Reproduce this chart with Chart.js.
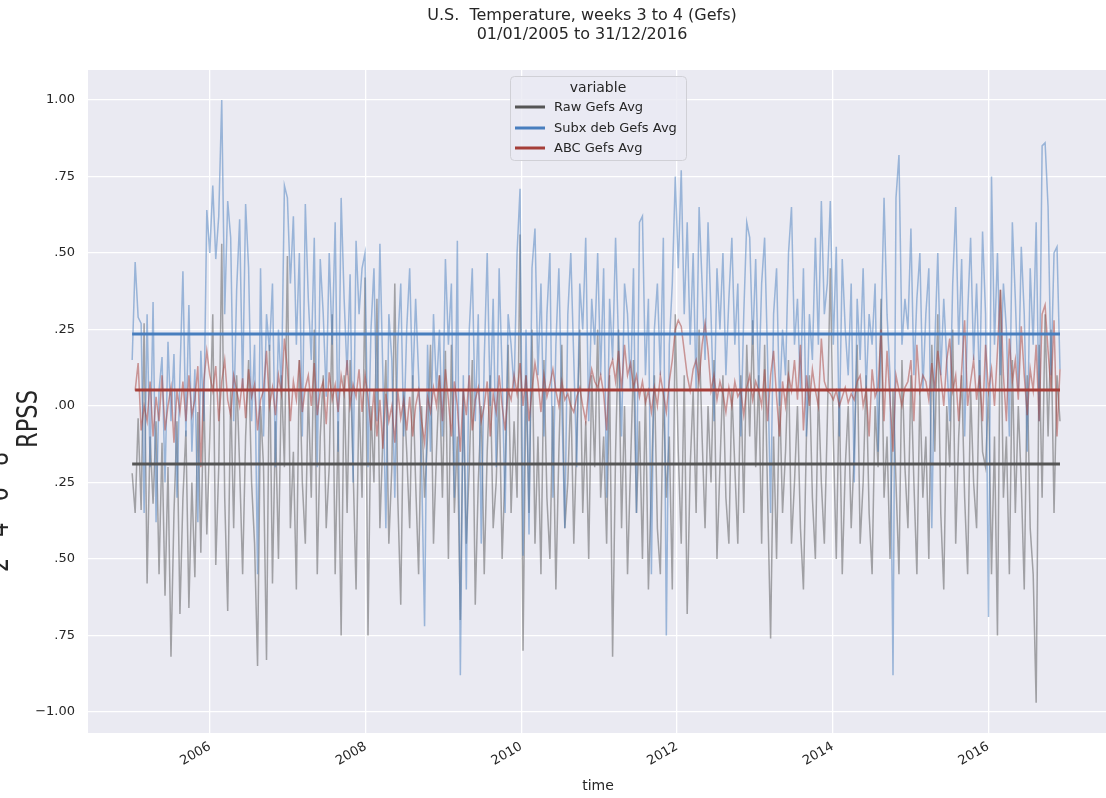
<!DOCTYPE html>
<html><head><meta charset="utf-8">
<script src="https://cdn.jsdelivr.net/npm/chart.js@4.4.0/dist/chart.umd.min.js"></script>
<style>html,body{margin:0;padding:0;background:#fff;}#wrap{width:1106px;height:798px;position:relative;}</style>
</head><body><div id="wrap"><canvas id="c" width="1106" height="798"></canvas></div>
<script>
// ---- data (biweekly samples) ----
const startDate = '2005-01-01';
const stepDays = 14;

const rawGefs = [
 -0.22,-0.35,-0.04,-0.34,0.27,-0.58,-0.10,-0.32,-0.05,-0.55,-0.12,-0.62,-0.20,-0.82,-0.35,-0.05,-0.68,-0.30,-0.08,-0.66,-0.25,-0.56,-0.02,-0.48,0.05,-0.42,
 -0.10,0.30,-0.52,-0.20,0.53,-0.30,-0.67,0.05,-0.40,0.10,-0.20,-0.55,-0.10,0.15,-0.25,-0.45,-0.85,0.00,-0.20,-0.83,0.20,-0.58,-0.05,-0.50,0.10,-0.20,
 0.49,-0.40,-0.15,-0.60,0.15,-0.25,-0.45,0.05,-0.30,0.25,-0.55,-0.10,0.10,-0.40,-0.20,0.30,-0.55,-0.05,-0.75,0.10,-0.35,0.15,-0.20,-0.60,0.05,-0.30,
 0.42,-0.75,0.00,-0.25,0.35,-0.40,-0.10,0.15,-0.45,-0.20,0.40,-0.30,-0.65,0.05,-0.15,-0.40,0.10,-0.25,-0.55,0.00,-0.30,-0.10,0.20,-0.45,-0.15,0.10,
 -0.30,0.18,-0.50,0.20,-0.35,-0.10,-0.70,0.05,-0.45,-0.20,0.15,-0.65,-0.25,0.00,-0.55,-0.15,0.10,-0.40,-0.25,0.05,-0.50,-0.20,0.20,-0.35,-0.05,-0.30,
 0.56,-0.80,0.10,-0.35,0.25,-0.45,-0.10,-0.55,0.15,-0.30,-0.50,0.00,-0.60,-0.15,0.20,-0.40,-0.25,0.05,-0.45,-0.10,0.25,-0.35,-0.05,-0.50,0.10,-0.20,
 0.25,-0.30,-0.10,-0.45,0.10,-0.82,-0.15,0.25,-0.40,0.00,-0.55,-0.20,0.15,-0.35,-0.05,-0.50,0.05,-0.60,-0.25,0.10,-0.40,-0.55,0.05,-0.30,-0.10,-0.60,
 0.30,-0.15,-0.45,0.10,-0.68,-0.20,0.05,-0.35,0.25,-0.10,-0.40,0.00,-0.25,0.15,-0.50,-0.20,0.10,-0.30,-0.45,0.05,-0.20,-0.45,0.10,-0.35,0.20,-0.10,
 0.28,-0.20,0.10,-0.45,0.20,-0.30,-0.76,-0.10,-0.50,0.05,-0.35,-0.15,0.15,-0.45,-0.25,0.00,-0.40,-0.60,-0.10,0.10,-0.30,-0.50,0.05,-0.25,-0.45,-0.05,
 0.45,-0.10,-0.50,0.05,-0.55,-0.20,0.00,-0.40,-0.15,0.20,-0.45,-0.25,0.10,-0.35,-0.55,0.00,-0.20,0.35,-0.30,-0.10,-0.50,0.05,-0.25,-0.55,0.15,-0.20,
 -0.40,0.10,-0.25,-0.55,0.05,-0.30,-0.10,-0.50,0.20,-0.15,0.30,-0.35,-0.60,0.00,-0.20,0.25,-0.45,-0.10,0.10,-0.30,-0.55,0.05,-0.25,-0.40,0.15,-0.15,
 -0.20,0.05,-0.55,-0.10,-0.75,0.38,-0.30,-0.10,-0.55,0.15,-0.35,0.00,-0.25,-0.60,0.10,-0.40,-0.55,-0.97,0.20,-0.30,0.30,-0.10,0.25,-0.35,0.10,-0.05
];

const subxGefs = [
 0.15,0.47,0.29,0.27,-0.35,0.30,-0.20,0.34,-0.38,0.05,0.16,-0.25,0.21,-0.05,0.17,-0.30,0.10,0.44,-0.10,0.33,-0.15,0.12,-0.38,0.18,-0.05,0.64,
 0.50,0.72,0.48,0.62,1.00,0.30,0.67,0.55,-0.05,0.38,0.61,0.05,0.66,0.45,-0.05,0.20,-0.55,0.45,-0.10,0.30,0.18,0.40,-0.20,0.25,0.05,0.72,
 0.68,0.40,0.62,0.20,0.50,-0.10,0.66,0.35,0.15,0.55,-0.20,0.48,0.30,0.03,0.50,0.20,0.60,-0.15,0.68,0.35,0.10,0.43,-0.25,0.54,0.30,0.45,
 0.50,-0.20,0.25,0.45,-0.05,0.53,0.10,-0.40,0.30,0.15,-0.30,0.20,0.40,-0.10,0.25,0.45,0.05,0.35,0.10,-0.20,-0.72,0.20,-0.15,0.30,0.05,0.25,
 -0.10,0.48,0.20,0.40,-0.30,0.54,-0.88,0.10,-0.60,0.25,0.45,-0.05,0.30,-0.45,0.15,0.50,0.00,0.35,-0.20,0.45,0.10,-0.35,0.30,0.20,0.05,0.50,
 0.71,-0.49,0.25,-0.42,0.45,0.58,0.10,0.40,-0.10,0.30,0.50,-0.30,0.20,0.45,0.00,-0.40,0.30,0.50,0.15,-0.20,0.40,0.25,0.55,-0.05,0.35,0.20,
 0.50,0.10,0.45,-0.30,0.35,0.15,0.55,0.20,-0.10,0.40,0.30,0.05,0.45,-0.35,0.60,0.62,0.10,0.35,-0.55,0.25,0.40,0.10,0.55,-0.75,0.20,0.40,
 0.75,0.45,0.77,0.30,0.60,0.20,0.50,0.05,0.65,0.40,0.15,0.60,0.30,-0.05,0.45,0.25,0.50,0.10,0.35,0.55,0.20,0.40,-0.10,0.30,0.60,0.55,
 0.20,0.48,0.05,0.40,0.55,0.15,-0.35,0.30,0.45,0.00,0.25,0.10,0.50,0.65,0.20,0.35,0.05,0.45,-0.10,0.30,0.15,0.55,0.20,0.67,0.30,0.40,
 0.67,0.20,0.52,-0.10,0.48,0.25,0.10,0.40,-0.25,0.35,0.15,0.45,0.05,0.30,0.20,0.40,-0.15,0.25,0.68,0.30,0.10,-0.88,0.68,0.82,0.20,0.35,
 0.25,0.58,0.10,0.35,0.50,0.05,0.30,0.45,-0.40,0.20,0.50,0.10,0.35,0.15,-0.05,0.40,0.65,0.20,0.48,-0.10,0.30,0.55,0.15,0.40,0.05,0.57,
 0.30,-0.69,0.75,0.20,0.50,0.10,0.40,0.25,-0.10,0.60,0.35,0.05,0.52,0.30,-0.15,0.45,0.20,0.60,-0.05,0.85,0.86,0.65,0.10,0.50,0.52,0.12
];

const abcGefs = [
 null,0.05,0.14,-0.08,0.00,-0.05,0.08,-0.10,0.03,-0.05,0.10,-0.08,0.00,0.06,-0.12,0.05,-0.02,0.08,-0.05,0.10,-0.03,0.02,0.13,-0.20,0.08,0.18,
 0.10,0.05,0.13,-0.05,0.08,0.15,0.02,-0.03,0.10,0.05,0.00,0.09,-0.04,0.12,0.03,0.07,-0.08,0.02,0.05,0.18,0.00,0.06,-0.03,0.10,0.04,0.22,
 0.12,-0.05,0.08,0.02,0.15,-0.02,0.06,0.10,0.00,0.14,-0.03,0.05,0.08,-0.06,0.11,0.02,0.07,-0.02,0.10,0.04,0.15,0.00,0.07,0.03,0.12,-0.02,
 0.10,0.03,-0.08,0.05,-0.10,0.02,-0.14,0.04,-0.05,0.00,-0.12,0.05,-0.04,0.02,-0.08,0.03,-0.10,0.00,0.05,-0.05,-0.12,0.03,-0.02,0.06,0.00,0.10,
 -0.05,0.12,0.02,-0.10,0.08,0.00,-0.15,0.05,-0.03,0.10,-0.08,0.02,0.06,-0.05,0.00,0.08,-0.10,0.04,-0.02,0.10,0.00,-0.08,0.05,0.02,0.10,0.04,
 0.14,0.00,0.10,-0.05,0.05,0.14,0.08,-0.02,0.10,0.03,0.07,0.12,0.05,0.00,0.08,0.02,0.04,0.00,-0.02,0.03,0.06,0.00,-0.05,0.05,0.12,0.08,
 0.06,0.10,0.04,-0.08,0.12,0.15,0.08,0.18,0.05,0.20,0.10,0.14,0.06,0.10,0.03,0.08,0.01,0.05,-0.02,0.06,0.00,0.10,0.04,-0.02,0.08,0.15,
 0.25,0.28,0.26,0.18,0.10,0.05,0.12,0.15,0.08,0.20,0.27,0.18,0.05,0.10,0.02,0.08,0.04,-0.02,0.06,0.00,0.08,0.03,0.05,-0.03,0.06,0.10,
 0.02,0.08,0.05,0.00,0.12,-0.05,0.10,0.18,0.03,-0.10,0.08,0.00,0.10,0.05,0.15,0.02,0.20,-0.08,0.10,0.00,0.12,0.05,0.00,0.22,0.08,0.05,
 0.04,0.02,0.05,0.00,0.03,0.06,0.01,0.04,0.02,0.08,0.10,0.00,0.05,-0.10,0.12,0.03,0.06,0.25,-0.05,0.18,0.02,-0.15,0.10,0.05,0.00,0.06,
 0.08,0.15,-0.05,0.20,0.05,0.10,0.08,0.02,0.14,0.05,0.18,0.10,0.00,0.15,0.22,0.05,0.10,-0.05,0.12,0.28,0.00,0.08,0.15,0.02,0.10,-0.05,
 0.20,0.05,0.12,0.00,0.18,0.38,0.10,-0.05,0.22,0.08,0.15,0.02,0.26,0.10,-0.03,0.12,0.05,0.20,-0.05,0.30,0.33,0.18,0.05,0.28,-0.10,0.12
];

const meanValues = [-0.19, 0.235, 0.052];
const seriesNames = ['Raw Gefs Avg', 'Subx deb Gefs Avg', 'ABC Gefs Avg'];
const xTickYears = [2006, 2008, 2010, 2012, 2014, 2016];
const yTickValues = [-1, -0.75, -0.5, -0.25, 0, 0.25, 0.5, 0.75, 1];
const yTickLabels = ['\u22121.00', '.75', '.50', '.25', '.00', '.25', '.50', '.75', '1.00'];
const titleLines = ['U.S.  Temperature, weeks 3 to 4 (Gefs)', '01/01/2005 to 31/12/2016'];
const xTitle = 'time';
const yTitle = 'RPSS';
const clippedLabel = '2   4   6   8';
const legendTitle = 'variable';

// ---- time axis as decimal years ----
const t0 = Date.parse(startDate + 'T00:00:00Z');
const time = rawGefs.map((_, i) => {
  const d = new Date(t0 + i * stepDays * 86400000);
  const y = d.getUTCFullYear();
  const ys = Date.UTC(y, 0, 1), ye = Date.UTC(y + 1, 0, 1);
  return y + (d.getTime() - ys) / (ye - ys);
});

const FONT = "'DejaVu Sans', 'Liberation Sans', sans-serif";
const TXT = '#262626';
const solid = ['rgb(85,85,85)', 'rgb(72,126,190)', 'rgb(165,62,56)'];
const faded = ['rgba(85,85,85,0.5)', 'rgba(72,126,190,0.5)', 'rgba(165,62,56,0.5)'];
const series = [rawGefs, subxGefs, abcGefs];

const datasets = [];
series.forEach((arr, k) => {
  datasets.push({
    label: seriesNames[k],
    data: arr.map((v, i) => ({ x: time[i], y: v })),
    borderColor: faded[k], borderWidth: 1.5, pointRadius: 0, tension: 0,
    order: 4 - k, spanGaps: false
  });
});
series.forEach((arr, k) => {
  const first = arr.findIndex(v => v !== null);
  datasets.push({
    label: seriesNames[k] + ' mean',
    data: [{ x: time[first], y: meanValues[k] }, { x: time[arr.length - 1], y: meanValues[k] }],
    borderColor: solid[k], borderWidth: 3, pointRadius: 0, order: 0
  });
});

function rotText(ctx, txt, x, y, size, targetLen) {
  ctx.save();
  ctx.translate(x, y);
  ctx.rotate(-Math.PI / 2);
  ctx.font = size + 'px ' + FONT;
  ctx.textAlign = 'center';
  ctx.textBaseline = 'alphabetic';
  const w = ctx.measureText(txt).width;
  ctx.scale(targetLen / w, 1);
  ctx.fillStyle = TXT;
  ctx.fillText(txt, 0, 0);
  ctx.restore();
}

const deco = {
  id: 'deco',
  beforeDraw(chart) {
    const { ctx, chartArea: a } = chart;
    ctx.save();
    ctx.fillStyle = '#EAEAF2';
    ctx.fillRect(a.left, a.top, a.right - a.left, a.bottom - a.top);
    ctx.restore();
  },
  afterDatasetsDraw(chart) {
    const ctx = chart.ctx;
    ctx.save();
    // legend
    const bx = 510.5, by = 76.5, bw = 176, bh = 84, r = 4;
    ctx.beginPath();
    ctx.moveTo(bx + r, by);
    ctx.arcTo(bx + bw, by, bx + bw, by + bh, r);
    ctx.arcTo(bx + bw, by + bh, bx, by + bh, r);
    ctx.arcTo(bx, by + bh, bx, by, r);
    ctx.arcTo(bx, by, bx + bw, by, r);
    ctx.closePath();
    ctx.fillStyle = 'rgba(234,234,242,0.8)';
    ctx.fill();
    ctx.strokeStyle = '#d0d0d6';
    ctx.lineWidth = 1;
    ctx.stroke();
    ctx.fillStyle = TXT;
    ctx.textBaseline = 'middle';
    ctx.textAlign = 'center';
    ctx.font = '14px ' + FONT;
    ctx.fillText(legendTitle, 598, 88);
    ctx.textAlign = 'left';
    ctx.font = '13px ' + FONT;
    const ys = [107, 128, 148];
    seriesNames.forEach((n, k) => {
      ctx.beginPath();
      ctx.strokeStyle = solid[k];
      ctx.lineWidth = 3;
      ctx.moveTo(515, ys[k]);
      ctx.lineTo(545, ys[k]);
      ctx.stroke();
      ctx.fillStyle = TXT;
      ctx.fillText(n, 554, ys[k] + 1);
    });
    ctx.restore();
  },
  afterDraw(chart) {
    const ctx = chart.ctx;
    ctx.save();
    ctx.fillStyle = TXT;
    ctx.textAlign = 'center';
    ctx.textBaseline = 'middle';
    ctx.font = '16px ' + FONT;
    ctx.fillText(titleLines[0], 582, 16);
    ctx.fillText(titleLines[1], 582, 35);
    ctx.font = '14px ' + FONT;
    ctx.fillText(xTitle, 598, 786);
    ctx.restore();
    rotText(ctx, yTitle, 37, 419, 29, 58);
    rotText(ctx, clippedLabel, 8, 512, 28, 120);
  }
};

new Chart(document.getElementById('c'), {
  type: 'line',
  data: { datasets },
  options: {
    responsive: false, animation: false, events: [],
    layout: { padding: { top: 70, left: 0, right: 0, bottom: 0 } },
    plugins: { legend: { display: false }, tooltip: { enabled: false }, title: { display: false } },
    scales: {
      x: {
        type: 'linear', min: 2004.4325, max: 2017.512,
        afterBuildTicks: s => { s.ticks = xTickYears.map(v => ({ value: v })); },
        afterFit: s => { s.height = 65; },
        grid: { color: '#ffffff', lineWidth: 1.3, drawTicks: false },
        border: { display: false },
        ticks: {
          autoSkip: false, maxRotation: 30, minRotation: 30, padding: 6,
          color: TXT, font: { family: FONT, size: 13 },
          callback: v => String(v)
        }
      },
      y: {
        type: 'linear', min: -1.069, max: 1.098,
        afterBuildTicks: s => { s.ticks = yTickValues.map(v => ({ value: v })); },
        afterFit: s => { s.width = 88; },
        grid: { color: '#ffffff', lineWidth: 1.3, drawTicks: false },
        border: { display: false },
        ticks: {
          padding: 13, color: TXT, font: { family: FONT, size: 13 },
          callback: v => {
            const i = yTickValues.findIndex(t => Math.abs(t - v) < 1e-9);
            return i >= 0 ? yTickLabels[i] : '';
          }
        }
      }
    }
  },
  plugins: [deco]
});
</script>
</body></html>
